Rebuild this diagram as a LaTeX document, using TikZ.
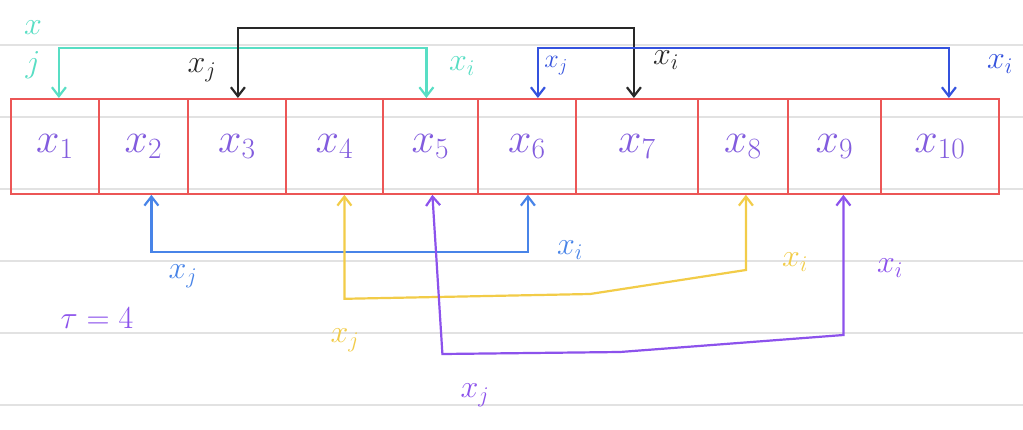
\documentclass[tikz,border=0pt]{standalone}
\usepackage{fix-cm}
\usetikzlibrary{arrows.meta,calc}
\definecolor{boxred}{RGB}{236,86,86}
\definecolor{cellpurple}{RGB}{130,92,222}
\definecolor{tealc}{RGB}{88,222,196}
\definecolor{blackc}{RGB}{40,40,40}
\definecolor{topblue}{RGB}{52,82,222}
\definecolor{lowblue}{RGB}{72,132,232}
\definecolor{yellowc}{RGB}{242,204,72}
\definecolor{purplec}{RGB}{140,82,236}
\definecolor{rule}{RGB}{226,226,226}
\tikzset{
  cellbox/.style={draw=boxred, line width=1.8pt, rectangle, inner sep=0pt,
    minimum height=95pt, anchor=north west, text=cellpurple,
    font=\fontsize{42}{46}\selectfont},
  link/.style={line width=2.2pt, {Straight Barb[length=9pt,width=14pt]}-{Straight Barb[length=9pt,width=14pt]}},
  lab/.style={font=\fontsize{32}{36}\selectfont, inner sep=0pt},
}
\begin{document}
\begin{tikzpicture}[x=1pt,y=-1pt]
\useasboundingbox[fill=white] (0,0) rectangle (1023,429);
% ruled paper lines
\foreach \yy in {45,117,189,261,333,405}
  \draw[rule, line width=2pt] (0,\yy) -- (1023,\yy);
% cells
\node[cellbox, minimum width=88pt]  (c1)  at (10,98)  {$x_1$};
\node[cellbox, minimum width=89pt]  (c2)  at (98,98)  {$x_2$};
\node[cellbox, minimum width=98pt]  (c3)  at (187,98) {$x_3$};
\node[cellbox, minimum width=97pt]  (c4)  at (285,98) {$x_4$};
\node[cellbox, minimum width=95pt]  (c5)  at (382,98) {$x_5$};
\node[cellbox, minimum width=98pt]  (c6)  at (477,98) {$x_6$};
\node[cellbox, minimum width=122pt] (c7)  at (575,98) {$x_7$};
\node[cellbox, minimum width=90pt]  (c8)  at (697,98) {$x_8$};
\node[cellbox, minimum width=93pt]  (c9)  at (787,98) {$x_9$};
\node[cellbox, minimum width=118pt] (c10) at (880,98) {$x_{10}$};
% top connectors
\draw[link, tealc]   ([xshift=4pt]c1.north) -- ++(0,-50) -| ([xshift=-4pt]c5.north);
\draw[link, blackc]  ([xshift=1pt]c3.north) -- ++(0,-70) -| ([xshift=-3pt]c7.north);
\draw[link, topblue] ([xshift=11pt]c6.north) -- ++(0,-47) -- ++(0,-3) -| ([xshift=9pt]c10.north);
% bottom connectors
\draw[link, lowblue] ([xshift=8pt]c2.south) -- ++(0,57) -| ([xshift=1pt]c6.south);
\draw[link, yellowc] ([xshift=10pt]c4.south) -- ++(0,104) -- (590,294) -- ([xshift=3pt]c8.south |- 0,270) -- ([xshift=3pt]c8.south);
\draw[link, purplec] ([xshift=2pt]c5.south) -- ($([xshift=12pt]c5.south |- 0,354)$) -- (620,352) -- ([xshift=9pt]c9.south |- 0,335) -- ([xshift=9pt]c9.south);
% labels top
\node[lab, tealc, align=center] (lt1) at (33,50) {$x$\\[2pt]$j$};
\node[lab, tealc] (lt2) at (462,66) {$x_i$};
\node[lab, blackc] (lb1) at (202,70) {$x_j$};
\node[lab, blackc] (lb2) at (666,60) {$x_i$};
\node[lab, topblue, font=\fontsize{26}{30}\selectfont] (lu1) at (556,66) {$x_j$};
\node[lab, topblue] (lu2) at (1000,64) {$x_i$};
% labels bottom
\node[lab, lowblue] (ll1) at (183,276) {$x_j$};
\node[lab, lowblue] (ll2) at (570,250) {$x_i$};
\node[lab, yellowc] (ly1) at (345,340) {$x_j$};
\node[lab, yellowc] (ly2) at (795,262) {$x_i$};
\node[lab, purplec] (lp1) at (475,395) {$x_j$};
\node[lab, purplec] (lp2) at (890,268) {$x_i$};
\node[lab, purplec] (tau) at (97,318) {$\tau = 4$};
\end{tikzpicture}
\end{document}
